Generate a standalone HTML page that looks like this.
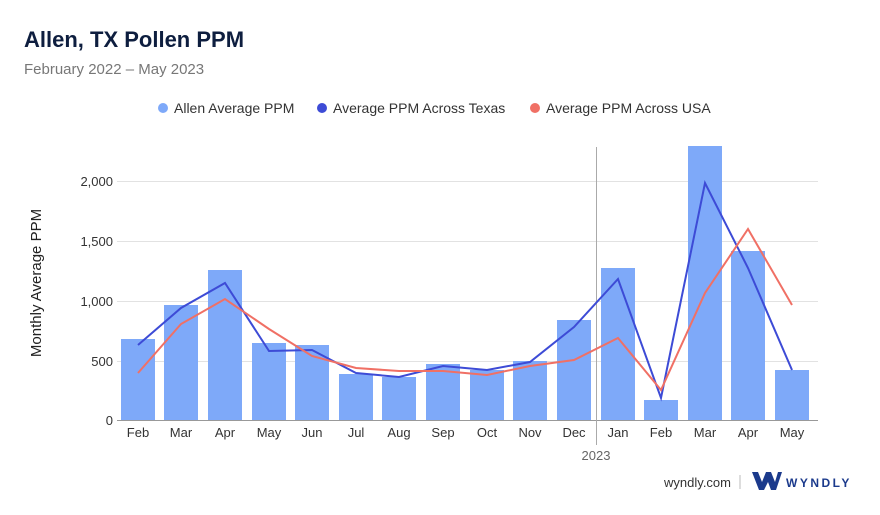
<!DOCTYPE html>
<html><head><meta charset="utf-8"><style>
body{margin:0;background:#fff;font-family:"Liberation Sans",sans-serif}
</style></head><body>
<svg width="880" height="510" xmlns="http://www.w3.org/2000/svg" font-family="Liberation Sans, sans-serif">
<rect width="880" height="510" fill="#fff"/>
<text x="24" y="47" font-size="22" font-weight="bold" fill="#0e1e3f">Allen, TX Pollen PPM</text>
<text x="24" y="74" font-size="15" fill="#777">February 2022 – May 2023</text>
<circle cx="163" cy="108" r="5" fill="#7ea9f9"/><text x="174" y="113" font-size="14" fill="#333">Allen Average PPM</text>
<circle cx="322" cy="108" r="5" fill="#3d4bd6"/><text x="333" y="113" font-size="14" fill="#333">Average PPM Across Texas</text>
<circle cx="535" cy="108" r="5" fill="#f07065"/><text x="546" y="113" font-size="14" fill="#333">Average PPM Across USA</text>
<g stroke="#e2e2e2" stroke-width="1">
<line x1="117" x2="818" y1="181.5" y2="181.5"/><line x1="117" x2="818" y1="241.5" y2="241.5"/><line x1="117" x2="818" y1="301.5" y2="301.5"/><line x1="117" x2="818" y1="361.5" y2="361.5"/>
</g>
<g font-size="13" fill="#333" text-anchor="end">
<text x="113" y="186">2,000</text><text x="113" y="246">1,500</text><text x="113" y="306">1,000</text><text x="113" y="366">500</text><text x="113" y="425">0</text>
</g>
<text transform="translate(41,283) rotate(-90)" font-size="15" fill="#222" text-anchor="middle">Monthly Average PPM</text>
<g fill="#7ea9f9">
<rect x="121" y="339" width="34" height="81"/><rect x="164" y="305" width="34" height="115"/><rect x="208" y="270" width="34" height="150"/><rect x="252" y="343" width="34" height="77"/><rect x="295" y="345" width="34" height="75"/><rect x="339" y="374" width="34" height="46"/><rect x="382" y="377" width="34" height="43"/><rect x="426" y="364" width="34" height="56"/><rect x="470" y="370" width="34" height="50"/><rect x="513" y="361" width="34" height="59"/><rect x="557" y="320" width="34" height="100"/><rect x="601" y="268" width="34" height="152"/><rect x="644" y="400" width="34" height="20"/><rect x="688" y="146" width="34" height="274"/><rect x="731" y="251" width="34" height="169"/><rect x="775" y="370" width="34" height="50"/>
</g>
<line x1="117" x2="818" y1="420.5" y2="420.5" stroke="#999"/>
<line x1="596.5" x2="596.5" y1="147" y2="445" stroke="#aaa"/>
<polyline fill="none" stroke="#3d4bd6" stroke-width="2" points="138,345 181,308 225,283 269,351 312,350 356,373 399,377 443,366 487,370 530,362 574,327 618,279 661,398 705,183 748,268 792,370"/>
<polyline fill="none" stroke="#f07065" stroke-width="2" points="138,373 181,324 225,299 269,329 312,356 356,368 399,371 443,371 487,375 530,366 574,360 618,338 661,390 705,293 748,229 792,305"/>
<g font-size="13" fill="#333" text-anchor="middle">
<text x="138" y="437">Feb</text><text x="181" y="437">Mar</text><text x="225" y="437">Apr</text><text x="269" y="437">May</text><text x="312" y="437">Jun</text><text x="356" y="437">Jul</text><text x="399" y="437">Aug</text><text x="443" y="437">Sep</text><text x="487" y="437">Oct</text><text x="530" y="437">Nov</text><text x="574" y="437">Dec</text><text x="618" y="437">Jan</text><text x="661" y="437">Feb</text><text x="705" y="437">Mar</text><text x="748" y="437">Apr</text><text x="792" y="437">May</text>
<text x="596" y="460" fill="#666">2023</text>
</g>
<text x="731" y="487" font-size="13" fill="#333" text-anchor="end">wyndly.com</text>
<line x1="740" x2="740" y1="475" y2="489" stroke="#bbb"/>
<path d="M752 472 L758 472 L762 482 L766 472 L771 472 L775 482 L778 472 L782 472 L776 490 L771 490 L768 482 L764 490 L759 490 Z" fill="#1b3a8c"/>
<text x="786" y="487" font-size="12" font-weight="bold" fill="#1b3a8c" letter-spacing="2.5">WYNDLY</text>
</svg>
</body></html>
